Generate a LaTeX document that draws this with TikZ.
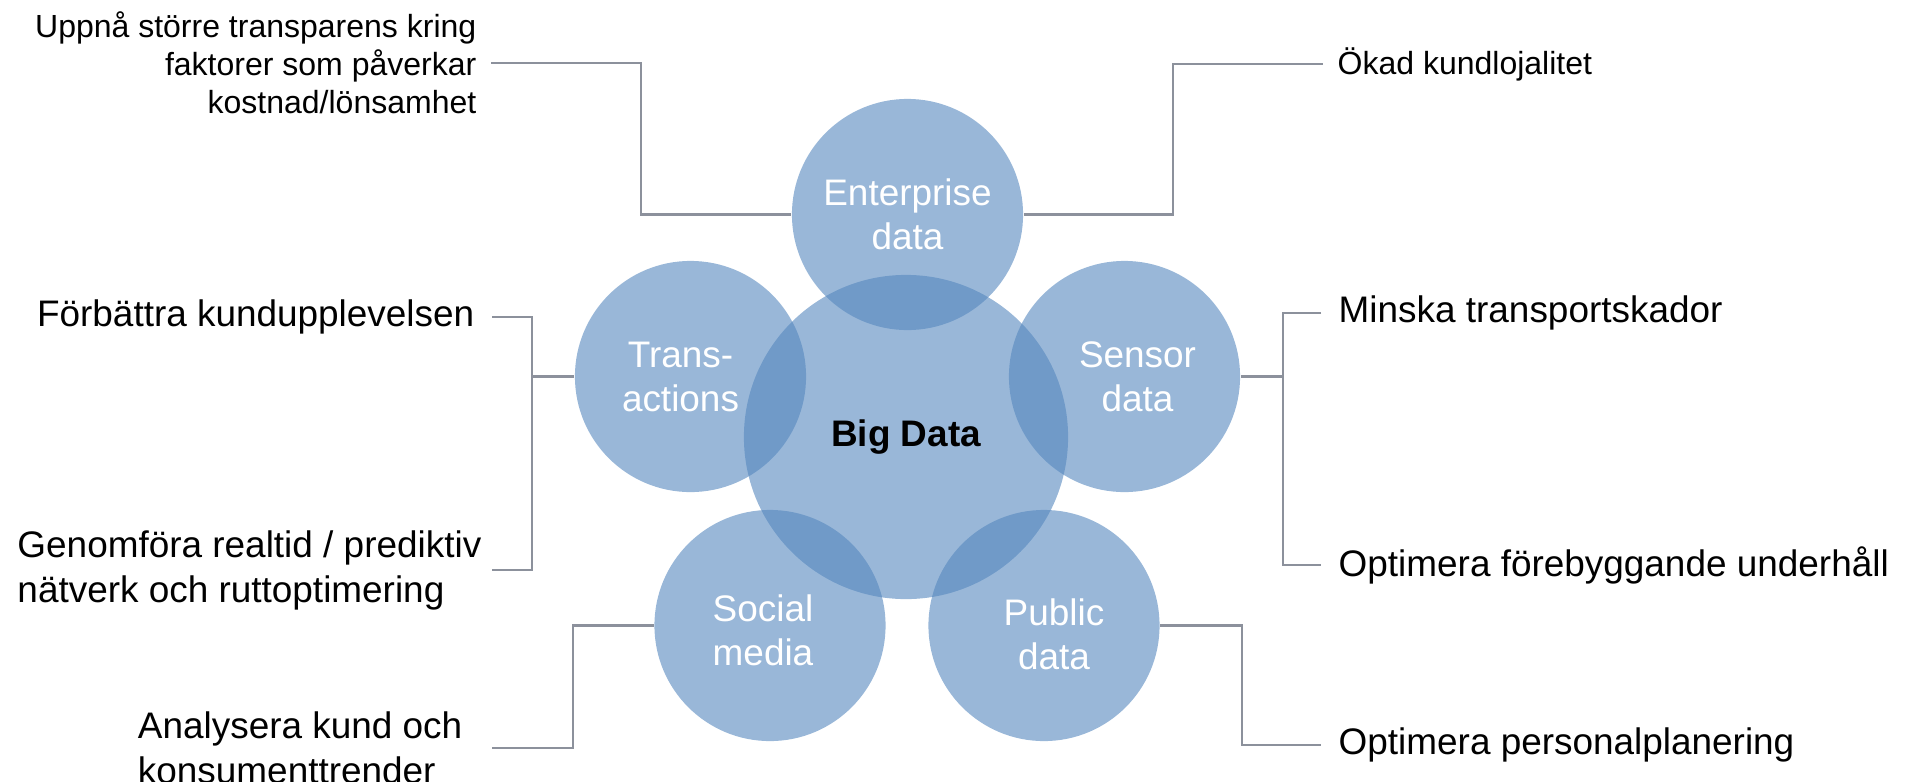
\documentclass[tikz,border=0pt]{standalone}
\usepackage{fontspec}
\setmainfont{Liberation Sans}
\definecolor{bubbleblue}{RGB}{85,135,190}
\definecolor{linegray}{RGB}{140,145,156}

\begin{document}
\begin{tikzpicture}[x=0.01cm,y=-0.01cm,
  bubble/.style={circle, fill=bubbleblue, fill opacity=0.6, minimum size=2.31cm, inner sep=0pt},
  btext/.style={text=white, align=center, inner sep=0pt, font=\fontsize{10.5}{12.5}\selectfont},
  lbl/.style={inner xsep=0.17cm, inner ysep=0pt, font=\fontsize{10.5}{12.8}\selectfont},
  small/.style={lbl, inner xsep=0.14cm, font=\fontsize{9.1}{10.8}\selectfont},
  conn/.style={draw=linegray, line width=0.6pt}]
  \useasboundingbox (0,0) rectangle (1908,781);

  % circles
  \node[bubble, minimum size=3.24cm] (big) at (906,437) {};
  \node[bubble] (ent) at (907.5,214.5) {};
  \node[bubble] (trans) at (690.5,376.5) {};
  \node[bubble] (sens) at (1124.5,376.5) {};
  \node[bubble] (soc) at (770,625.5) {};
  \node[bubble] (pub) at (1044,625.5) {};

  % circle texts
  \node[btext, text=black, font=\fontsize{10.5}{12.5}\selectfont\bfseries] (bigtxt) at (big) {Big Data};
  \node[btext] (enttxt) at (ent) {Enterprise\\data};
  \node[btext] (transtxt) at ([xshift=-0.1cm]trans.center) {Trans-\\actions};
  \node[btext] (senstxt) at ([xshift=0.13cm]sens.center) {Sensor\\data};
  \node[btext] (soctxt) at ([xshift=-0.07cm,yshift=-0.05cm]soc.center) {Social\\media};
  \node[btext] (pubtxt) at ([xshift=0.1cm,yshift=-0.09cm]pub.center) {Public\\data};

  % left labels
  \node[small, align=right, anchor=east] (cost) at (491,63) {Uppnå större transparens kring\\faktorer som påverkar\\kostnad/lönsamhet};
  \node[lbl, anchor=east] (exp) at (492,317) {Förbättra kundupplevelsen};
  \node[lbl, align=left, anchor=east, inner xsep=0.1cm] (route) at (492,570) {Genomföra realtid / prediktiv\\nätverk och ruttoptimering};
  \node[lbl, align=left, anchor=east, inner xsep=0.29cm] (trend) at (492,748) {Analysera kund och\\konsumenttrender};

  % right labels
  \node[small, anchor=west] (loyal) at (1323,64) {Ökad kundlojalitet};
  \node[lbl, anchor=west] (damage) at (1321,313) {Minska transportskador};
  \node[lbl, anchor=west] (maint) at (1321,565) {Optimera förebyggande underhåll};
  \node[lbl, anchor=west] (staff) at (1321,745) {Optimera personalplanering};

  % connectors
  \draw[conn] (cost.east) -- ++(150,0) |- (ent.west);
  \draw[conn] (ent.east) -- ++(149,0) |- (loyal.west);
  \draw[conn] (trans.west) -- ++(-42,0) coordinate (tb);
  \draw[conn] (exp.east) -| (tb) |- (route.east);
  \draw[conn] (soc.west) -- ++(-81,0) |- (trend.east);
  \draw[conn] (sens.east) -- ++(42,0) coordinate (sb);
  \draw[conn] (damage.west) -| (sb) |- (maint.west);
  \draw[conn] (pub.east) -- ++(82,0) |- (staff.west);
\end{tikzpicture}
\end{document}
